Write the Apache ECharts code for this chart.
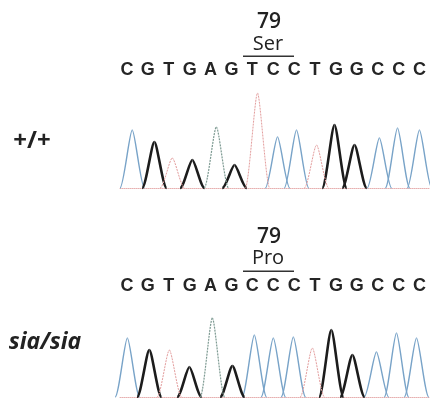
<!DOCTYPE html>
<html>
<head>
<meta charset="utf-8">
<script src="https://cdn.jsdelivr.net/npm/echarts@6/dist/echarts.min.js"></script>
<style>
  html, body { margin: 0; padding: 0; background: #fff; }
  #chart { width: 430px; height: 398px; }
</style>
</head>
<body>
<div id="chart"></div>
<script>
// sequence read above each trace
const wtLetters = ['C', 'G', 'T', 'G', 'A', 'G', 'T', 'C', 'C', 'T', 'G', 'G', 'C', 'C', 'C'];
const mutLetters = ['C', 'G', 'T', 'G', 'A', 'G', 'C', 'C', 'C', 'T', 'G', 'G', 'C', 'C', 'C'];

// peak centre (in base index units) and peak height for each called base
const wtPos = [0.28, 1.33, 2.18, 3.13, 4.27, 5.13, 6.22, 7.17, 8.07, 9.02, 9.87, 10.82, 12.0, 12.86, 13.9];
const wtHeight = [58, 46, 30, 28, 61, 23, 95, 51, 58, 43, 63, 43, 50, 60, 58];
const mutPos = [0.05, 1.09, 2.04, 2.99, 4.08, 5.03, 6.07, 6.97, 7.92, 8.82, 9.72, 10.72, 11.86, 12.81, 13.76];
const mutHeight = [59, 47, 47, 30, 79, 31, 62, 59, 60, 49, 67, 42, 45, 64, 59];

const bases = ['C', 'G', 'T', 'A'];
const traceStyle = {
  C: {color: '#78a3c8', width: 1.4, dash: null},
  G: {color: '#1c1c1c', width: 2.6, dash: null},
  T: {color: '#e39c9c', width: 1, dash: [2, 1]},
  A: {color: '#7d9a92', width: 1.2, dash: [2, 1]}
};
const halfWidth = 0.58;

const chart = echarts.init(document.getElementById('chart'));

function peakRender(style) {
  return function (params, api) {
    const x = api.value(0), h = api.value(1);
    const b = api.coord([x - halfWidth, 0]);
    const t = api.coord([x, h]);
    const e = api.coord([x + halfWidth, 0]);
    const dl = t[0] - b[0], dr = e[0] - t[0];
    const st = {stroke: style.color, lineWidth: style.width, fill: 'none', lineDash: style.dash};
    return {
      type: 'group',
      children: [
        {type: 'bezierCurve', shape: {x1: b[0], y1: b[1], cpx1: b[0] + dl * 0.3, cpy1: b[1],
          cpx2: t[0] - dl * 0.22, cpy2: t[1], x2: t[0], y2: t[1]}, style: st},
        {type: 'bezierCurve', shape: {x1: t[0], y1: t[1], cpx1: t[0] + dr * 0.22, cpy1: t[1],
          cpx2: e[0] - dr * 0.3, cpy2: e[1], x2: e[0], y2: e[1]}, style: st}
      ]
    };
  };
}

function traceSeries(letters, pos, height, axisIndex) {
  return bases.map(base => ({
    type: 'custom',
    name: base,
    xAxisIndex: axisIndex,
    yAxisIndex: axisIndex,
    silent: true,
    clip: false,
    renderItem: peakRender(traceStyle[base]),
    data: letters.map((l, i) => l === base ? [pos[i], height[i]] : null).filter(d => d)
  }));
}

const valueX = gridIndex => ({
  type: 'value', gridIndex, min: -0.3, max: 14.4,
  axisLine: {show: true, lineStyle: {color: '#e7b0b0', type: 'dotted', width: 1}},
  axisTick: {show: false}, axisLabel: {show: false}, splitLine: {show: false}
});
const valueY = gridIndex => ({
  type: 'value', gridIndex, min: 0, max: 100, show: false, splitLine: {show: false}
});
const letterX = (gridIndex, letters) => ({
  type: 'category', gridIndex, position: 'bottom', data: letters,
  axisLine: {show: false}, axisTick: {show: false}, splitLine: {show: false},
  axisLabel: {margin: 0, verticalAlign: 'middle', fontSize: 18, fontWeight: 'bold', color: '#252525',
    fontFamily: 'Liberation Sans', interval: 0}
});
const hiddenY = gridIndex => ({type: 'value', gridIndex, show: false});

const labelFont = '"Open Sans", sans-serif';
const centred = {textAlign: 'center', textVerticalAlign: 'middle', fill: '#222'};

chart.setOption({
  animation: false,
  backgroundColor: '#fff',
  grid: [
    {left: 120, width: 310, top: 88, height: 100},
    {left: 120, width: 310, top: 297, height: 100},
    {left: 116.5, width: 316, top: 69, height: 1},
    {left: 116.5, width: 316, top: 285, height: 1}
  ],
  xAxis: [valueX(0), valueX(1), letterX(2, wtLetters), letterX(3, mutLetters)],
  yAxis: [valueY(0), valueY(1), hiddenY(2), hiddenY(3)],
  graphic: [
    {type: 'text', x: 269, y: 22, style: {...centred, text: '79', font: '600 21px ' + labelFont}},
    {type: 'text', x: 268, y: 44, style: {...centred, text: 'Ser', font: '500 20px ' + labelFont}},
    {type: 'rect', shape: {x: 243, y: 55.5, width: 51, height: 1.6}, style: {fill: '#333'}},
    {type: 'text', x: 269, y: 237, style: {...centred, text: '79', font: '600 21px ' + labelFont}},
    {type: 'text', x: 268, y: 258, style: {...centred, text: 'Pro', font: '500 20px ' + labelFont}},
    {type: 'rect', shape: {x: 243, y: 270.5, width: 51, height: 1.6}, style: {fill: '#333'}},
    {type: 'text', x: 32, y: 141, style: {...centred, text: '+/+', font: 'bold 24px ' + labelFont}},
    {type: 'text', x: 45, y: 342, style: {...centred, text: 'sia/sia', font: 'italic bold 23px ' + labelFont}}
  ],
  series: [
    ...traceSeries(wtLetters, wtPos, wtHeight, 0),
    ...traceSeries(mutLetters, mutPos, mutHeight, 1)
  ]
});
</script>
</body>
</html>
